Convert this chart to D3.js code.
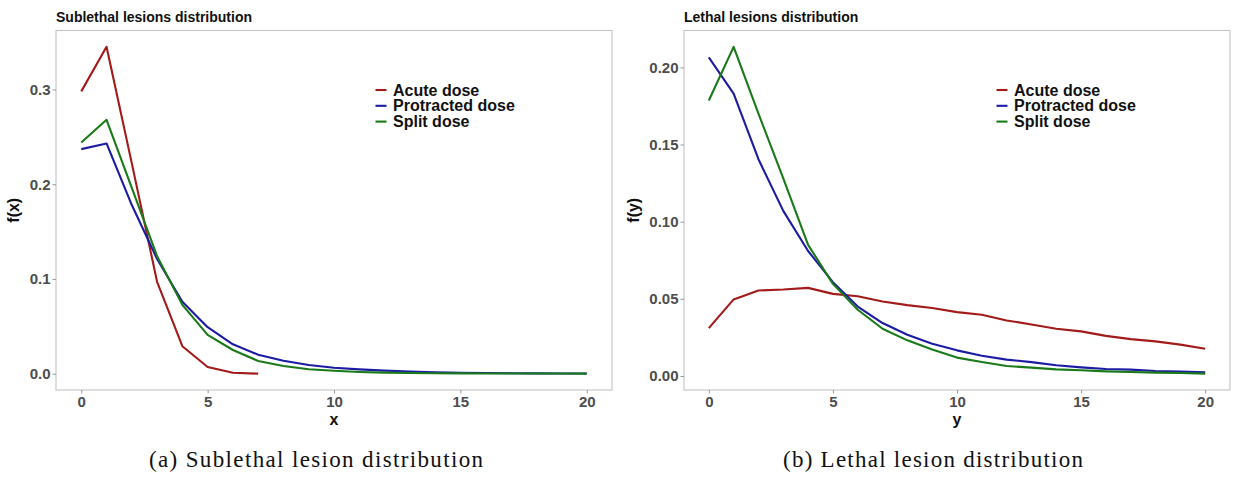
<!DOCTYPE html>
<html>
<head>
<meta charset="utf-8">
<script src="https://cdn.jsdelivr.net/npm/d3@7"></script>
<style>
  body { margin: 0; background: #fff; }
  svg { display: block; }
</style>
</head>
<body>
<svg class="lesionSVG" width="1235" height="477"></svg>
<script>
// values, one entry per integer count
const countsShort = [0, 1, 2, 3, 4, 5, 6, 7];
const counts = [0, 1, 2, 3, 4, 5, 6, 7, 8, 9, 10, 11, 12, 13, 14, 15, 16, 17, 18, 19, 20];

const subAcute = [0.298, 0.345, 0.222, 0.097, 0.029, 0.007, 0.001, 0.0];
const subProtracted = [0.237, 0.243, 0.178, 0.121, 0.076, 0.049, 0.031, 0.020, 0.0137, 0.0092, 0.0063,
                       0.0045, 0.0032, 0.0022, 0.0015, 0.0010, 0.0007, 0.0005, 0.0003, 0.0002, 0.0002];
const subSplit = [0.244, 0.268, 0.196, 0.124, 0.0726, 0.041, 0.025, 0.0134, 0.0081, 0.0046, 0.003,
                  0.0018, 0.0011, 0.0007, 0.0004, 0.0003, 0.0002, 0.0001, 0.0001, 0.0001, 0.0];

const lethAcute = [0.031, 0.0496, 0.0554, 0.056, 0.0571, 0.0532, 0.0517, 0.0483, 0.0459, 0.044, 0.0414,
                   0.0397, 0.036, 0.0334, 0.0306, 0.0289, 0.026, 0.0239, 0.0224, 0.0203, 0.0177];
const lethProtracted = [0.2065, 0.183, 0.1405, 0.107, 0.081, 0.0608, 0.045, 0.0343, 0.0267, 0.0209, 0.0166,
                        0.0131, 0.0106, 0.009, 0.0069, 0.0056, 0.0045, 0.0041, 0.0032, 0.0028, 0.0024];
const lethSplit = [0.1785, 0.2133, 0.170, 0.128, 0.085, 0.0597, 0.0429, 0.0306, 0.0231, 0.0172, 0.0119,
                   0.009, 0.0065, 0.0054, 0.0043, 0.0037, 0.003, 0.0026, 0.0022, 0.0019, 0.0015];

const seriesNames = ['Acute dose', 'Protracted dose', 'Split dose'];
const seriesColors = ['#a31a1a', '#1c1ca3', '#1a7a1a'];

const xTicks = [0, 5, 10, 15, 20];
const subYTicks = [0, 0.1, 0.2, 0.3];
const lethYTicks = [0, 0.05, 0.10, 0.15, 0.20];

const svg = d3.select('svg.lesionSVG');
const sans = "'Liberation Sans', Arial, sans-serif";

function drawPanel(p) {
  const g = svg.append('g').attr('class', 'panel');

  const allY = p.series.flatMap(s => s.values);
  const yMin = d3.min(allY), yMax = d3.max(allY);
  const pad = (yMax - yMin) * 0.05;

  // ggplot-style 5% expansion on both axes
  const x = d3.scaleLinear().domain([-1, 21]).range([p.left, p.right]);
  const y = d3.scaleLinear().domain([yMin - pad, yMax + pad]).range([p.bottom, p.top]);

  g.append('rect')
    .attr('x', p.left).attr('y', p.top)
    .attr('width', p.right - p.left).attr('height', p.bottom - p.top)
    .style('fill', 'none').style('stroke', '#c4c4c4').style('stroke-width', 1.1);

  const xAxis = g.append('g')
    .attr('transform', `translate(0,${p.bottom})`)
    .call(d3.axisBottom(x).tickValues(xTicks).tickSize(3.5).tickPadding(3));
  const yAxis = g.append('g')
    .attr('transform', `translate(${p.left},0)`)
    .call(d3.axisLeft(y).tickValues(p.yTicks).tickFormat(d3.format(p.fmt)).tickSize(3.5).tickPadding(2));

  [xAxis, yAxis].forEach(a => {
    a.select('.domain').remove();
    a.selectAll('line').style('stroke', '#9a9a9a');
    a.selectAll('text')
      .style('font-family', sans).style('font-weight', 'bold')
      .style('font-size', '15px').style('fill', '#4d4d4d');
  });

  const line = d3.line().x(d => x(d[0])).y(d => y(d[1]));

  g.selectAll('path.series')
    .data(p.series)
    .enter()
    .append('path')
    .attr('class', 'series')
    .attr('d', s => line(s.xs.map((v, i) => [v, s.values[i]])))
    .style('fill', 'none')
    .style('stroke', (s, i) => seriesColors[i])
    .style('stroke-width', 2.1)
    .style('stroke-linejoin', 'round');

  // title
  g.append('text')
    .text(p.title)
    .attr('x', p.left).attr('y', 22)
    .style('font-family', sans).style('font-weight', 'bold')
    .style('font-size', '14px').style('fill', '#111');

  // axis titles
  g.append('text')
    .text(p.xLabel)
    .attr('x', (p.left + p.right) / 2).attr('y', 425)
    .style('text-anchor', 'middle')
    .style('font-family', sans).style('font-weight', 'bold')
    .style('font-size', '16px').style('fill', '#111');

  g.append('text')
    .text(p.yLabel)
    .attr('transform', `translate(${p.yLabelX},${(p.top + p.bottom) / 2}) rotate(-90)`)
    .style('text-anchor', 'middle')
    .style('font-family', sans).style('font-weight', 'bold')
    .style('font-size', '16px').style('fill', '#111');

  // legend
  const legend = g.append('g').attr('transform', `translate(${p.legendX},90)`);
  seriesNames.forEach((name, i) => {
    legend.append('line')
      .attr('x1', 0).attr('x2', 11)
      .attr('y1', i * 15.8).attr('y2', i * 15.8)
      .style('stroke', seriesColors[i]).style('stroke-width', 2.1);
    legend.append('text')
      .text(name)
      .attr('x', 17.5).attr('y', i * 15.8 + 5.6)
      .style('font-family', sans).style('font-weight', 'bold')
      .style('font-size', '16px').style('fill', '#111');
  });

  // caption
  svg.append('text')
    .text(p.caption)
    .attr('x', p.captionX).attr('y', 467)
    .attr('textLength', p.captionLen)
    .attr('lengthAdjust', 'spacing')
    .style('text-anchor', 'middle')
    .style('font-family', "'Liberation Serif', 'DejaVu Serif', serif")
    .style('font-size', '23px').style('fill', '#111');
}

drawPanel({
  left: 56, right: 612, top: 30.5, bottom: 390,
  title: 'Sublethal lesions distribution',
  xLabel: 'x', yLabel: 'f(x)', yLabelX: 19,
  yTicks: subYTicks, fmt: '.1f',
  legendX: 375.5,
  caption: '(a) Sublethal lesion distribution', captionX: 316, captionLen: 334,
  series: [
    {xs: countsShort, values: subAcute},
    {xs: counts, values: subProtracted},
    {xs: counts, values: subSplit}
  ]
});

drawPanel({
  left: 684, right: 1230, top: 30.5, bottom: 390,
  title: 'Lethal lesions distribution',
  xLabel: 'y', yLabel: 'f(y)', yLabelX: 639,
  yTicks: lethYTicks, fmt: '.2f',
  legendX: 996.5,
  caption: '(b) Lethal lesion distribution', captionX: 933, captionLen: 300,
  series: [
    {xs: counts, values: lethAcute},
    {xs: counts, values: lethProtracted},
    {xs: counts, values: lethSplit}
  ]
});
</script>
</body>
</html>
